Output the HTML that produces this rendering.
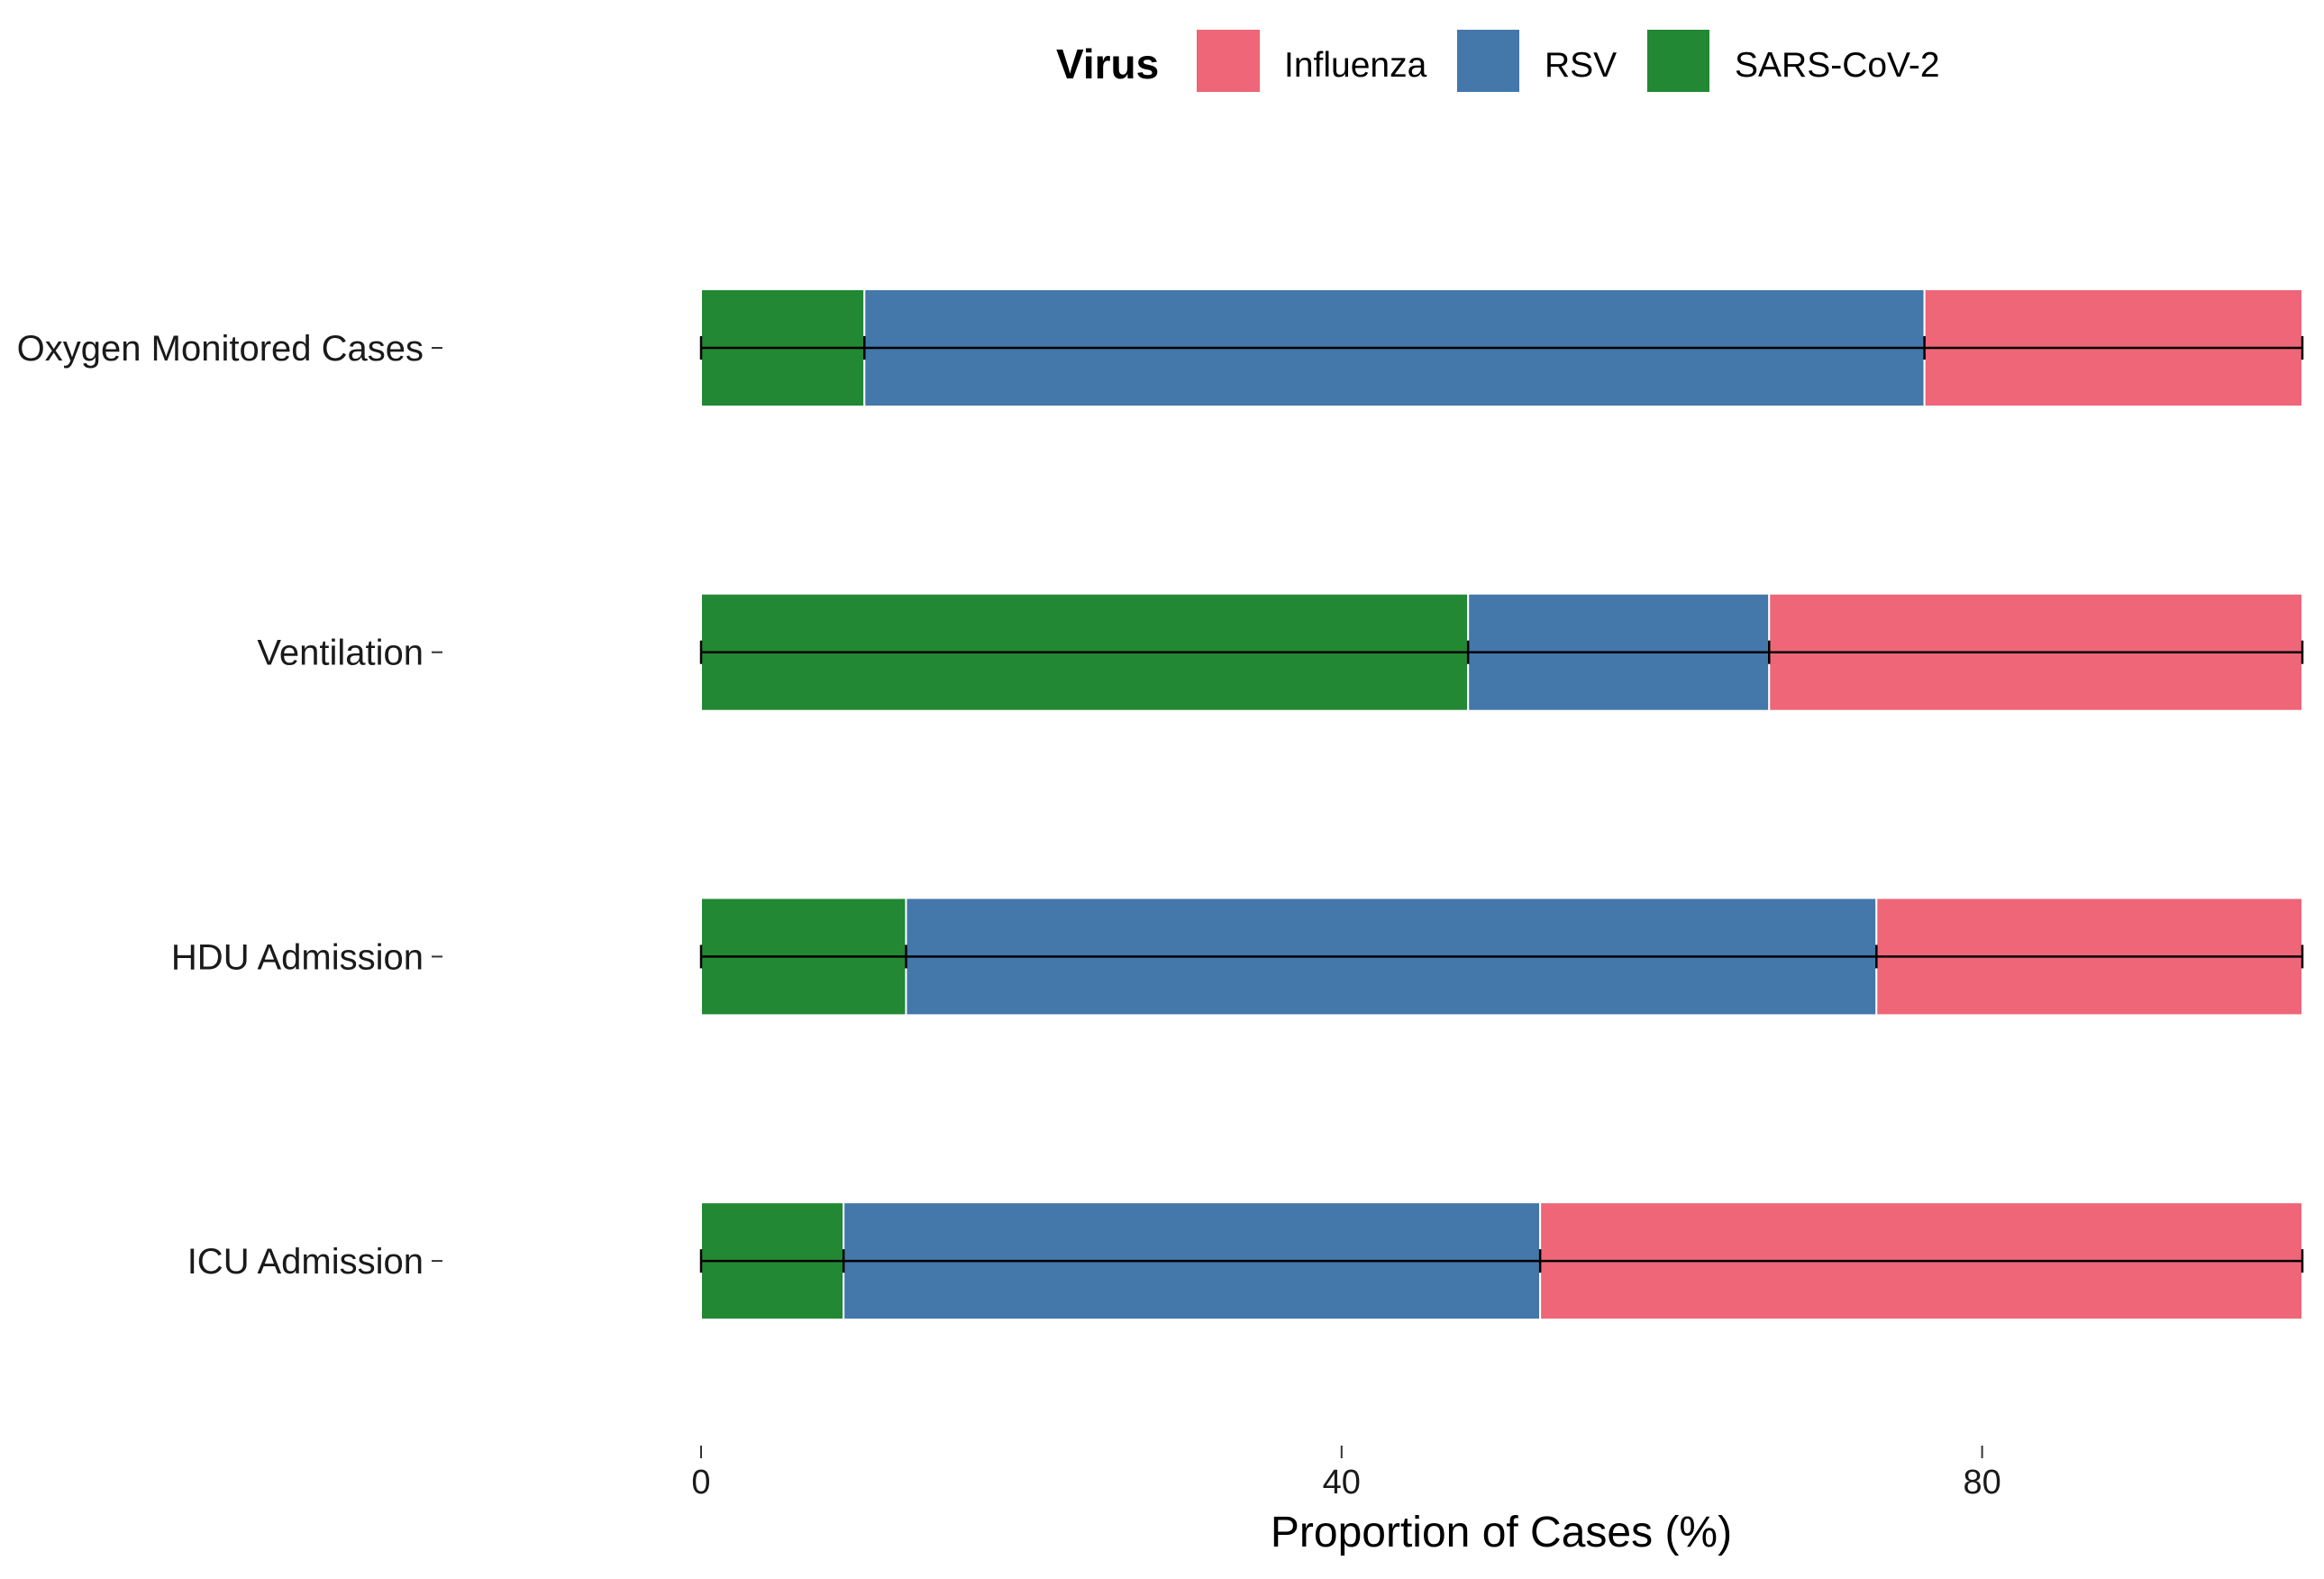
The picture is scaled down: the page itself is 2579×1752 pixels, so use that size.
<!DOCTYPE html>
<html><head><meta charset="utf-8"><style>
body{margin:0;background:#fff;}
svg text{font-family:"Liberation Sans",sans-serif;}
</style></head><body>
<svg id="chart" width="2579" height="1747" viewBox="0 0 2579 1747" xmlns="http://www.w3.org/2000/svg">
<g id="legend">
<text x="1172" y="87" font-size="46" font-weight="bold">Virus</text>
<rect x="1328" y="33" width="70" height="69" fill="#EE6677"/>
<text x="1425" y="85" font-size="39">Influenza</text>
<rect x="1617" y="33" width="69" height="69" fill="#4477AA"/>
<text x="1714" y="85" font-size="39">RSV</text>
<rect x="1828" y="33" width="69" height="69" fill="#228833"/>
<text x="1925" y="85" font-size="39">SARS-CoV-2</text>
</g>
<g id="bars"></g>
<g id="axes"></g>
<text x="1666" y="1716" font-size="48" text-anchor="middle">Proportion of Cases (%)</text>
</svg>
<script>
const categories = ["Oxygen Monitored Cases","Ventilation","HDU Admission","ICU Admission"];
const sarsValues = [10.2, 47.9, 12.8, 8.9];
const rsvValues = [66.2, 18.8, 60.6, 43.5];
const fluValues = [23.6, 33.3, 26.6, 47.6];
const xTicks = [0, 40, 80];

const NS = "http://www.w3.org/2000/svg";
const x = v => 778 + v * 17.77;
const yC = i => 386 + i * 337.7;
const barH = 130;
const bars = document.getElementById('bars');
const axes = document.getElementById('axes');
function mk(tag, attrs, parent){const e=document.createElementNS(NS,tag);for(const k in attrs)e.setAttribute(k,attrs[k]);parent.appendChild(e);return e;}

categories.forEach((c,i)=>{
  const cy = yC(i);
  const segs = [[sarsValues[i],'#228833','sars-cov-2'],[rsvValues[i],'#4477AA','rsv'],[fluValues[i],'#EE6677','influenza']];
  let acc = 0;
  const bounds = [0];
  segs.forEach(s=>{
    const r = mk('rect',{x:x(acc),y:cy-barH/2,width:x(acc+s[0])-x(acc),height:barH,fill:s[1],stroke:'#fff','stroke-width':2},bars);
    
    
    acc += s[0];
    bounds.push(acc);
  });
  const l = mk('line',{x1:x(0),x2:x(acc),y1:cy,y2:cy,stroke:'#000','stroke-width':2.5},bars);
  
  
  bounds.forEach(b=>{
    const cap = mk('line',{x1:x(b),x2:x(b),y1:cy-13,y2:cy+13,stroke:'#000','stroke-width':2.5},bars);
    
    
  });
  const t = mk('text',{x:470,y:cy+14,'font-size':40,'text-anchor':'end',fill:'#1a1a1a'},axes);
  t.textContent = c;
  
  
  const tk = mk('line',{x1:479,x2:491,y1:cy,y2:cy,stroke:'#333','stroke-width':2},axes);
  
  
});
xTicks.forEach(v=>{
  const tk = mk('line',{x1:x(v),x2:x(v),y1:1604,y2:1618,stroke:'#333','stroke-width':2},axes);
  
  
  const t = mk('text',{x:x(v),y:1657,'font-size':38,'text-anchor':'middle',fill:'#1a1a1a'},axes);
  t.textContent = v;
  
  
});
</script>
</body></html>
